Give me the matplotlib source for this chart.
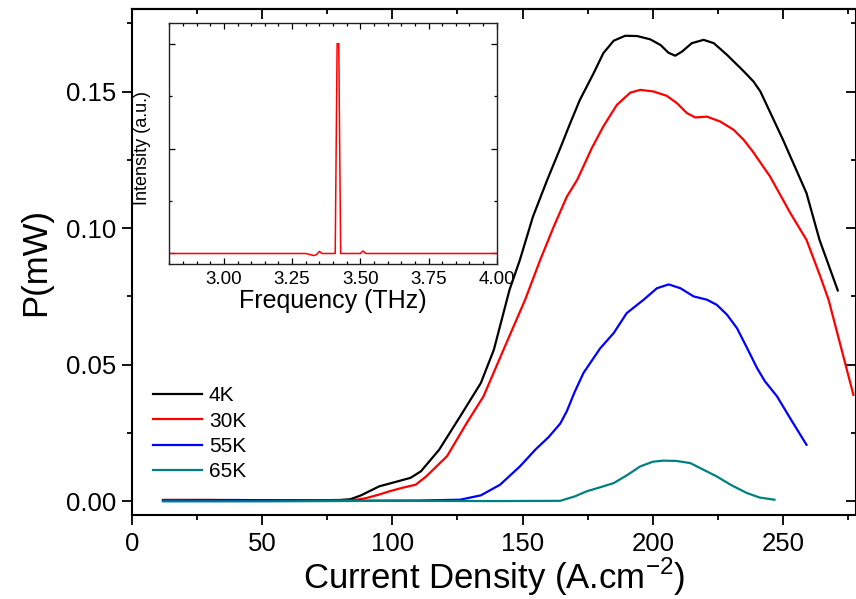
import matplotlib
matplotlib.use("Agg")
import matplotlib.pyplot as plt
from matplotlib.ticker import MultipleLocator, FormatStrFormatter

plt.rcParams["font.family"] = ["Liberation Sans", "DejaVu Sans"]
plt.rcParams["mathtext.fontset"] = "custom"
plt.rcParams["mathtext.rm"] = "Liberation Sans"

# L-I curves, current density (A/cm^2) vs output power (mW)
j_4k = [12, 30, 50, 70, 80, 84, 88, 95, 102, 107, 111, 118, 126, 134, 139, 145,
        149, 154, 159.5, 164.5, 168.3, 172, 177.3, 181, 185, 189.4, 194, 199,
        203, 206, 208.6, 211.2, 215, 219.5, 223.4, 228.5, 235, 238.7, 241.3,
        250, 259, 264, 271]
p_4k = [0.0005, 0.0005, 0.0004, 0.0004, 0.0005, 0.0008, 0.0022, 0.0055, 0.0073,
        0.0086, 0.011, 0.0189, 0.031, 0.0433, 0.0555, 0.0774, 0.0884, 0.1042,
        0.1177, 0.1293, 0.1384, 0.1469, 0.1567, 0.164, 0.1686, 0.1704, 0.1703,
        0.1691, 0.167, 0.1642, 0.1631, 0.1646, 0.1677, 0.1689, 0.1677, 0.1634,
        0.1573, 0.1536, 0.150, 0.1323, 0.1128, 0.0957, 0.0772]

j_30k = [12, 30, 50, 70, 85, 90, 95, 99, 104, 109, 113, 121, 128.6, 135, 142.7,
         151, 156.8, 162, 167, 171, 176.6, 181, 186.2, 191.4, 195.2, 200.3,
         205.4, 209.3, 213.1, 216.3, 220.8, 225.9, 231, 234.9, 238.4, 245,
         252.8, 259, 264.3, 267.5, 277]
p_30k = [0.0005, 0.0005, 0.0004, 0.0004, 0.0004, 0.0012, 0.0025, 0.0037, 0.005,
         0.0061, 0.0091, 0.0165, 0.0287, 0.0384, 0.0555, 0.0738, 0.0884, 0.1006,
         0.1115, 0.1177, 0.1293, 0.1372, 0.1451, 0.1496, 0.1506, 0.150, 0.1484,
         0.1457, 0.1421, 0.1405, 0.1408, 0.139, 0.136, 0.1323, 0.1280, 0.1189,
         0.1055, 0.0957, 0.0823, 0.0737, 0.039]

j_55k = [12, 40, 80, 110, 126, 134, 141.4, 149, 155, 160, 164.5, 167, 170, 173.4,
         179.8, 185, 190, 196.5, 201.6, 206.1, 210.6, 215.7, 220.8, 224.6, 228.5,
         232.3, 236.2, 240, 243, 247.7, 253, 259]
p_55k = [0.0003, 0.0005, 0.0002, 0.0003, 0.0006, 0.0022, 0.0061, 0.0128, 0.019,
         0.0235, 0.0285, 0.033, 0.040, 0.047, 0.056, 0.0616, 0.0689, 0.0738,
         0.078, 0.0794, 0.078, 0.075, 0.0738, 0.0719, 0.0683, 0.0634, 0.0561,
         0.0488, 0.044, 0.0384, 0.030, 0.0207]

j_65k = [12, 50, 100, 140, 164.5, 170, 174.7, 180, 185, 190, 195.2, 200, 204,
         209, 214.4, 219, 224.6, 230, 236, 241, 246.7]
p_65k = [0.0, 0.0, 0.0002, 0.0001, 0.0002, 0.0018, 0.0037, 0.0052, 0.0067,
         0.0095, 0.0128, 0.0145, 0.0149, 0.0148, 0.014, 0.0118, 0.0091, 0.006,
         0.0031, 0.0014, 0.0006]

series = [
    ("4K", j_4k, p_4k, "black"),
    ("30K", j_30k, p_30k, "red"),
    ("55K", j_55k, p_55k, "blue"),
    ("65K", j_65k, p_65k, "#008080"),
]

# inset emission spectrum
freq = [2.80, 3.00, 3.20, 3.30, 3.33, 3.34, 3.35, 3.36, 3.40, 3.408, 3.415,
        3.421, 3.428, 3.44, 3.50, 3.51, 3.52, 3.60, 3.80, 4.00]
inten = [0.0, 0.0, 0.0, 0.0, -0.01, -0.005, 0.01, 0.0, 0.0, 0.0, 1.0,
         1.0, 0.0, 0.0, 0.0, 0.012, 0.0, 0.0, 0.0, 0.0]

fig = plt.figure(figsize=(8.56, 5.99), dpi=100)
ax = fig.add_axes([0.1539, 0.1402, 0.8461, 0.8448])

for label, j, p, c in series:
    ax.plot(j, p, color=c, lw=1.6, label=label, solid_joinstyle="round")

ax.set_xlim(0, 278)
ax.set_ylim(-0.005, 0.1802)
ax.xaxis.set_major_locator(MultipleLocator(50))
ax.xaxis.set_minor_locator(MultipleLocator(25))
ax.yaxis.set_major_locator(MultipleLocator(0.05))
ax.yaxis.set_minor_locator(MultipleLocator(0.025))
ax.yaxis.set_major_formatter(FormatStrFormatter("%.2f"))
for s in ax.spines.values():
    s.set_linewidth(1.5)
ax.tick_params(which="both", direction="out", width=1.3, labelsize=18.5,
               top=False, right=False)
ax.tick_params(which="major", length=7)
ax.tick_params(which="minor", length=3.5)
ax.tick_params(axis="x", pad=5)
ax.tick_params(axis="y", pad=4)
# inward ticks on top and right, like Origin
sec_x = ax.secondary_xaxis("top")
sec_x.xaxis.set_major_locator(MultipleLocator(50))
sec_x.xaxis.set_minor_locator(MultipleLocator(25))
sec_x.tick_params(which="both", direction="in", width=1.3, labeltop=False)
sec_x.tick_params(which="major", length=7)
sec_x.tick_params(which="minor", length=3.5)
sec_x.spines["top"].set_linewidth(1.5)
sec_y = ax.secondary_yaxis("right")
sec_y.yaxis.set_major_locator(MultipleLocator(0.05))
sec_y.yaxis.set_minor_locator(MultipleLocator(0.025))
sec_y.tick_params(which="both", direction="in", width=1.3, labelright=False)
sec_y.tick_params(which="major", length=7)
sec_y.tick_params(which="minor", length=3.5)

ax.set_xlabel("Current Density (A.cm$^{-2}$)", fontsize=25, labelpad=0)
ax.set_ylabel("P(mW)", fontsize=25, labelpad=10)

ax.legend(loc="upper left", bbox_to_anchor=(0.1784, 0.355),
          bbox_transform=fig.transFigure, frameon=False, fontsize=15,
          handlelength=2.35, handletextpad=0.35, labelspacing=0.3,
          borderpad=0, borderaxespad=0)

# inset
ins = fig.add_axes([0.1978, 0.5593, 0.3825, 0.4028])
ins.plot(freq, inten, color="red", lw=1.1)
ins.set_xlim(2.8, 4.0)
ins.set_ylim(-0.05, 1.1)
ins.xaxis.set_major_locator(MultipleLocator(0.25))
ins.xaxis.set_minor_locator(MultipleLocator(0.05))
ins.yaxis.set_major_locator(MultipleLocator(0.5))
ins.yaxis.set_minor_locator(MultipleLocator(0.25))
ins.xaxis.set_major_formatter(FormatStrFormatter("%.2f"))
ins.tick_params(which="both", direction="in", top=True, right=True,
                width=0.9, labelsize=13.5, labelleft=False, pad=5)
ins.tick_params(which="major", length=4)
ins.tick_params(which="minor", length=2.5)
for s in ins.spines.values():
    s.set_linewidth(1.0)
    s.set_color("#222222")
ins.set_xlabel("Frequency (THz)", fontsize=18, labelpad=1)
ins.set_ylabel("Intensity (a.u.)", fontsize=13)
ins.yaxis.set_label_coords(-0.056, 0.48)

fig.savefig("out.png", dpi=100)
